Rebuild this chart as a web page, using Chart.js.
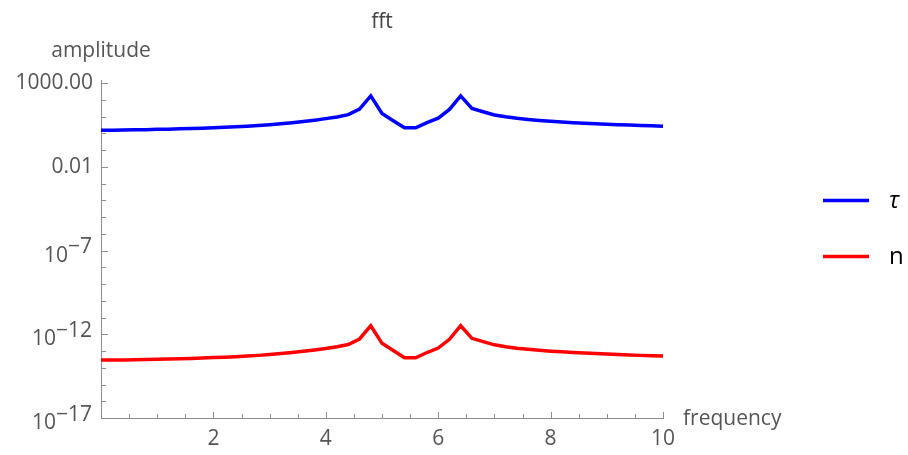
<!DOCTYPE html>
<html>
<head>
<meta charset="utf-8">
<script src="https://cdn.jsdelivr.net/npm/chart.js@4.4.1/dist/chart.umd.min.js"></script>
<style>
  html, body { margin: 0; padding: 0; background: #fff; }
  #wrap { width: 908px; height: 455px; }
</style>
</head>
<body>
<div id="wrap"><canvas id="fft" width="908" height="455"></canvas></div>
<script>
// ── Data (step 0.2) ──────────────────────────────────────────
const FREQ = [0, 0.2, 0.4, 0.6, 0.8, 1, 1.2, 1.4, 1.6, 1.8, 2, 2.2, 2.4, 2.6, 2.8, 3, 3.2, 3.4, 3.6, 3.8,
    4, 4.2, 4.4, 4.6, 4.8, 5, 5.2, 5.4, 5.6, 5.8, 6, 6.2, 6.4, 6.6, 6.8, 7, 7.2, 7.4, 7.6, 7.8,
    8, 8.2, 8.4, 8.6, 8.8, 9, 9.2, 9.4, 9.6, 9.8, 10];

const TAU = [1.55, 1.55, 1.58, 1.62, 1.66, 1.74, 1.78, 1.86, 1.95, 2.04, 2.19, 2.29, 2.45, 2.69, 2.95, 3.31, 3.80, 4.37, 5.13, 6.17,
    7.59, 9.55, 13.2, 28.2, 174, 15.5, 5.75, 2.14, 2.14, 4.37, 8.13, 26.9, 174, 30.9, 19.5, 12.6, 9.77, 7.94, 6.76, 5.89,
    5.25, 4.79, 4.37, 4.07, 3.80, 3.55, 3.31, 3.16, 2.95, 2.82, 2.69];

const N = [2.88e-14, 2.88e-14, 2.95e-14, 3.02e-14, 3.09e-14, 3.24e-14, 3.31e-14, 3.47e-14, 3.63e-14, 3.80e-14,
    4.07e-14, 4.27e-14, 4.57e-14, 5.01e-14, 5.50e-14, 6.17e-14, 7.08e-14, 8.13e-14, 9.55e-14, 1.15e-13,
    1.41e-13, 1.78e-13, 2.45e-13, 5.25e-13, 3.24e-12, 2.88e-13, 1.07e-13, 3.98e-14, 3.98e-14, 8.13e-14,
    1.51e-13, 5.01e-13, 3.24e-12, 5.75e-13, 3.63e-13, 2.34e-13, 1.82e-13, 1.48e-13, 1.26e-13, 1.10e-13,
    9.77e-14, 8.91e-14, 8.13e-14, 7.59e-14, 7.08e-14, 6.61e-14, 6.17e-14, 5.89e-14, 5.50e-14, 5.25e-14, 5.01e-14];

const SERIES_LABELS = ['τ', 'n'];
const SERIES_COLORS = ['#0000ff', '#ff0000'];

// y ticks every decade, labelled every 5 decades
const Y_EXPONENTS = [3, 2, 1, 0, -1, -2, -3, -4, -5, -6, -7, -8, -9, -10, -11, -12, -13, -14, -15, -16, -17];
const Y_PLAIN_LABELS = { 3: '1000.00', '-2': '0.01' };
const Y_POWER_LABELS = { '-7': '−7', '-12': '−12', '-17': '−17' };
const X_LABELLED = [2, 4, 6, 8, 10];

const FONT = "'Open Sans', 'DejaVu Sans', sans-serif";
const TEXT_GRAY = '#555';
const AXIS_GRAY = '#8c8c8c';

Chart.defaults.font.family = FONT;

const exp10 = v => Math.round(Math.log10(v));

// ── Inward ticks, power labels, axis titles, legend ──────────
const mmaAxes = {
    id: 'mmaAxes',
    afterDraw(chart) {
        const { ctx, chartArea: a, scales: { x, y } } = chart;
        ctx.save();
        ctx.strokeStyle = AXIS_GRAY;
        ctx.lineWidth = 1;
        ctx.beginPath();
        x.ticks.forEach(t => {
            const px = Math.round(x.getPixelForValue(t.value)) + 0.5;
            const len = X_LABELLED.includes(t.value) ? 6 : 4;
            ctx.moveTo(px, a.bottom);
            ctx.lineTo(px, a.bottom - len);
        });
        y.ticks.forEach(t => {
            const py = Math.round(y.getPixelForValue(t.value)) + 0.5;
            const len = (exp10(t.value) + 17) % 5 === 0 ? 7 : 5;
            ctx.moveTo(a.left, py);
            ctx.lineTo(a.left + len, py);
        });
        ctx.stroke();

        // 10^n labels
        ctx.fillStyle = TEXT_GRAY;
        ctx.font = `21px ${FONT}`;
        ctx.textAlign = 'right';
        ctx.textBaseline = 'alphabetic';
        y.ticks.forEach(t => {
            const sup = Y_POWER_LABELS[exp10(t.value)];
            if (!sup) return;
            const py = y.getPixelForValue(t.value);
            const right = a.left - 9;
            const w = ctx.measureText(sup).width;
            ctx.fillText(sup, right, py + 2.5);
            ctx.fillText('10', right - w, py + 11);
        });

        // axis titles
        ctx.textAlign = 'center';
        ctx.fillText('amplitude', a.left, 57);
        ctx.textAlign = 'left';
        ctx.fillText('frequency', a.right + 20, 425);

        // legend, to the right of the plot
        chart.data.datasets.forEach((ds, i) => {
            const ly = 200.5 + i * 56;
            const lx = a.right + 160;
            ctx.strokeStyle = ds.borderColor;
            ctx.lineWidth = ds.borderWidth;
            ctx.beginPath();
            ctx.moveTo(lx, ly);
            ctx.lineTo(lx + 46, ly);
            ctx.stroke();
            ctx.fillStyle = '#000';
            ctx.font = `${i === 0 ? 'italic ' : ''}24px ${FONT}`;
            ctx.fillText(ds.label, lx + 66, ly + 7);
        });
        ctx.restore();
    },
};

// ── Chart ────────────────────────────────────────────────────
new Chart(document.getElementById('fft'), {
    type: 'line',
    data: {
        datasets: [TAU, N].map((vals, i) => ({
            label: SERIES_LABELS[i],
            data: FREQ.map((f, j) => ({ x: f, y: vals[j] })),
            borderColor: SERIES_COLORS[i],
            backgroundColor: SERIES_COLORS[i],
            borderWidth: 3.5,
            pointRadius: 0,
            tension: 0,
            fill: false,
        })),
    },
    options: {
        responsive: false,
        animation: false,
        layout: { padding: 0 },
        scales: {
            x: {
                type: 'linear',
                min: 0,
                max: 10,
                grid: { display: false, drawTicks: false },
                border: { display: true, color: AXIS_GRAY, width: 1 },
                ticks: {
                    stepSize: 0.5,
                    autoSkip: false,
                    maxRotation: 0,
                    padding: 8,
                    color: TEXT_GRAY,
                    font: { size: 21 },
                    callback: v => X_LABELLED.includes(v) ? String(v) : '',
                },
                afterFit: scale => {
                    scale.height = 37;
                    scale.paddingRight = 245;
                },
            },
            y: {
                type: 'logarithmic',
                min: 1e-17,
                max: 1500,
                grid: { display: false, drawTicks: false },
                border: { display: true, color: AXIS_GRAY, width: 1 },
                afterBuildTicks: scale => {
                    scale.ticks = Y_EXPONENTS.map(e => ({ value: Math.pow(10, e) }));
                },
                ticks: {
                    autoSkip: false,
                    padding: 8,
                    color: TEXT_GRAY,
                    font: { size: 21 },
                    callback: v => Y_PLAIN_LABELS[exp10(v)] || '',
                },
                afterFit: scale => { scale.width = 101; },
            },
        },
        plugins: {
            title: {
                display: true,
                text: 'fft',
                fullSize: false,
                color: '#444',
                font: { size: 21, weight: 'normal' },
                padding: { top: 9, bottom: 46 },
            },
            legend: { display: false },
            tooltip: { enabled: false },
        },
    },
    plugins: [mmaAxes],
});
</script>
</body>
</html>
